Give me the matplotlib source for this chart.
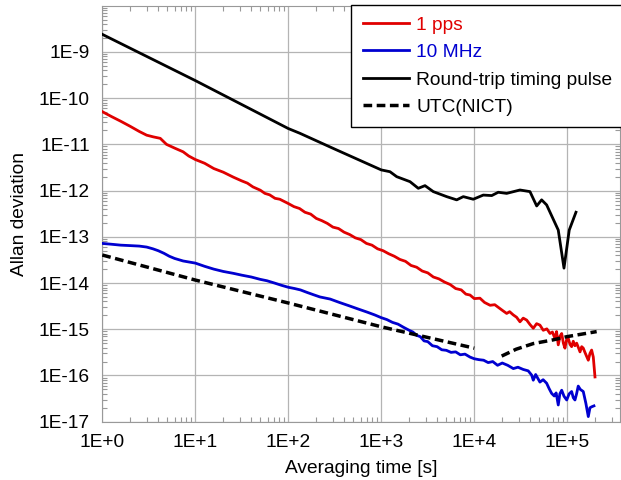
import matplotlib
matplotlib.use("Agg")
import matplotlib.pyplot as plt
import numpy as np
from matplotlib.ticker import FixedLocator, FuncFormatter, LogLocator, NullFormatter

plt.rcParams['font.family'] = ['Liberation Sans', 'DejaVu Sans']

# ---------------- data ----------------
series_labels = ["1 pps", "10 MHz", "Round-trip timing pulse", "UTC(NICT)"]

tau_1pps = [1, 1.26, 1.58, 2.0, 2.5, 3.0, 3.55, 4.2, 4.9, 6.0, 7.4, 8.5, 10, 12.6, 15.8, 20,
            25.7, 31.6, 36.3, 41.7, 50, 56, 63, 72, 81, 100, 115, 132, 151, 174, 200, 229,
            263, 302, 347, 398, 457, 525, 603, 692, 794, 912, 1047, 1202, 1380, 1585, 1820,
            2089, 2399, 2754, 3162, 3631, 4169, 4786, 5495, 6310, 7244, 8128, 9000, 10000,
            11500, 12900, 14800, 16600, 18900, 20400, 22300, 24000, 26200, 28500, 31000,
            33600, 36600, 39800, 43100, 46800, 50800, 55200, 60300, 65200, 69200, 73800,
            76700, 80000, 83600, 87100, 90800, 94400, 98400, 102600, 107000, 111400, 116000,
            121000, 126200, 131800, 137100, 142900, 148600, 154900, 161400, 168300, 175400,
            182800, 190500, 198600]
adev_1pps = [5.1e-11, 3.98e-11, 3.16e-11, 2.45e-11, 1.9e-11, 1.58e-11, 1.45e-11, 1.35e-11,
             1.0e-11, 8.3e-12, 6.9e-12, 5.6e-12, 4.7e-12, 3.9e-12, 3.0e-12, 2.5e-12, 1.95e-12,
             1.62e-12, 1.45e-12, 1.2e-12, 1.02e-12, 8.7e-13, 8.1e-13, 6.8e-13, 6.5e-13,
             5.25e-13, 4.5e-13, 4.1e-13, 3.4e-13, 3.1e-13, 2.5e-13, 2.24e-13, 1.95e-13,
             1.62e-13, 1.51e-13, 1.26e-13, 1.12e-13, 9.5e-14, 8.7e-14, 7.2e-14, 6.6e-14,
             5.5e-14, 5.0e-14, 4.3e-14, 3.8e-14, 3.24e-14, 2.95e-14, 2.4e-14, 2.2e-14,
             1.82e-14, 1.66e-14, 1.35e-14, 1.23e-14, 1.05e-14, 9.3e-15, 7.6e-15, 7.1e-15,
             5.75e-15, 5.5e-15, 4.6e-15, 4.7e-15, 3.8e-15, 3.3e-15, 3.4e-15, 2.8e-15, 2.5e-15,
             2.2e-15, 2.4e-15, 2.05e-15, 1.82e-15, 1.45e-15, 1.74e-15, 1.58e-15, 1.26e-15,
             1.05e-15, 1.32e-15, 1.23e-15, 9.5e-16, 1.02e-15, 8.1e-16, 8.7e-16, 6.3e-16,
             8.9e-16, 4.6e-16, 7.1e-16, 8.1e-16, 5.0e-16, 3.9e-16, 6.0e-16, 6.3e-16, 4.7e-16,
             4.2e-16, 5.5e-16, 4.4e-16, 5.0e-16, 4.0e-16, 3.24e-16, 4.2e-16, 3.9e-16,
             3.16e-16, 2.6e-16, 2.14e-16, 3.0e-16, 3.55e-16, 2.5e-16, 9.3e-17]

tau_10mhz = [1, 1.26, 1.58, 2.0, 2.5, 3.0, 3.5, 4.0, 4.6, 5.25, 6.0, 7.4, 10, 12.6, 15.8, 20,
             25.7, 31.6, 40, 50, 59, 71, 85, 100, 117, 135, 158, 186, 219, 282, 355, 447, 562,
             708, 851, 1000, 1148, 1318, 1514, 1738, 1995, 2188, 2399, 2630, 2884, 3162, 3548,
             3981, 4467, 5012, 5623, 6310, 7079, 7943, 9000, 10000, 11200, 12600, 14100,
             15800, 17800, 20000, 22900, 26300, 29500, 33600, 38000, 41400, 43100, 45700,
             50800, 55000, 60000, 63800, 67900, 72400, 75900, 80000, 83200, 87100, 92300,
             98600, 104700, 111400, 116100, 121000, 125900, 131200, 138000, 148600, 158500,
             168300, 175400, 182800, 193600]
adev_10mhz = [7.2e-14, 6.9e-14, 6.6e-14, 6.45e-14, 6.3e-14, 6.0e-14, 5.5e-14, 5.0e-14,
              4.4e-14, 3.8e-14, 3.4e-14, 3.0e-14, 2.7e-14, 2.3e-14, 2.0e-14, 1.78e-14,
              1.62e-14, 1.48e-14, 1.35e-14, 1.2e-14, 1.12e-14, 1.0e-14, 8.9e-15, 8.1e-15,
              7.6e-15, 7.1e-15, 6.3e-15, 5.6e-15, 5.0e-15, 4.5e-15, 3.8e-15, 3.24e-15,
              2.75e-15, 2.34e-15, 2.04e-15, 1.78e-15, 1.62e-15, 1.41e-15, 1.29e-15, 1.1e-15,
              9.5e-16, 8.7e-16, 7.4e-16, 6.9e-16, 5.6e-16, 5.4e-16, 4.4e-16, 4.2e-16, 3.6e-16,
              3.5e-16, 3.16e-16, 3.24e-16, 2.8e-16, 2.9e-16, 2.5e-16, 2.3e-16, 2.2e-16,
              2.14e-16, 1.9e-16, 2.0e-16, 1.66e-16, 1.86e-16, 1.66e-16, 1.41e-16, 1.51e-16,
              1.35e-16, 1.26e-16, 1.02e-16, 7.9e-17, 1.05e-16, 7.2e-17, 8.1e-17, 6.8e-17,
              5.2e-17, 4.1e-17, 3.6e-17, 4.2e-17, 2.3e-17, 4.0e-17, 4.8e-17, 3.55e-17,
              2.95e-17, 4.0e-17, 4.5e-17, 3.3e-17, 2.95e-17, 4.0e-17, 5.9e-17, 5.0e-17,
              4.5e-17, 2.5e-17, 1.29e-17, 2.0e-17, 2.1e-17, 2.2e-17]

tau_roundtrip = [1, 10, 100, 133, 316, 1000, 1241, 1465, 2036, 2500, 2951, 3624, 5047, 6470,
                 7620, 9750, 12500, 15400, 18100, 22300, 31000, 39700, 46900, 53000, 60000,
                 80000, 92200, 105000, 124000]
adev_roundtrip = [2.4e-9, 2.4e-10, 2.2e-11, 1.74e-11, 7.9e-12, 2.8e-12, 2.56e-12, 2.0e-12,
                  1.56e-12, 1.12e-12, 1.28e-12, 9.5e-13, 7.4e-13, 6.3e-13, 7.4e-13, 6.5e-13,
                  8.0e-13, 7.8e-13, 9.2e-13, 8.7e-13, 1.03e-12, 9.5e-13, 4.65e-13, 6.3e-13,
                  4.9e-13, 1.4e-13, 2.1e-14, 1.4e-13, 3.4e-13]

tau_utc_a = [1, 10, 100, 1000, 10000]
adev_utc_a = [4.04e-14, 1.16e-14, 3.7e-15, 1.13e-15, 3.9e-16]
tau_utc_b = [19700, 28200, 43100, 70600, 98600, 207000]
adev_utc_b = [2.63e-16, 3.7e-16, 4.9e-16, 5.9e-16, 6.9e-16, 8.9e-16]

x_ticks = [1e0, 1e1, 1e2, 1e3, 1e4, 1e5]
x_tick_labels = ["1E+0", "1E+1", "1E+2", "1E+3", "1E+4", "1E+5"]
y_ticks = [1e-17, 1e-16, 1e-15, 1e-14, 1e-13, 1e-12, 1e-11, 1e-10, 1e-9]
y_tick_labels = ["1E-17", "1E-16", "1E-15", "1E-14", "1E-13", "1E-12", "1E-11", "1E-10", "1E-9"]

# ---------------- figure ----------------
fig = plt.figure(figsize=(6.21, 4.80), dpi=100)
W, H = 621, 480
ax = fig.add_axes([102.3 / W, (H - 421.7) / H, (620 - 102.3) / W, (421.7 - 5.7) / H])
ax.set_xscale('log')
ax.set_yscale('log')
ax.set_xlim(1, 3.69e5)
ax.set_ylim(1e-17, 1e-8)

ax.grid(True, which='major', color='#b4b4b4', lw=0.9)
ax.set_axisbelow(True)

ax.plot(tau_1pps, adev_1pps, color='#e00000', lw=2.0, label=series_labels[0], zorder=3)
ax.plot(tau_10mhz, adev_10mhz, color='#0000d0', lw=2.0, label=series_labels[1], zorder=3)
ax.plot(tau_roundtrip, adev_roundtrip, color='black', lw=2.0, label=series_labels[2], zorder=3)
dash = (0, (2.5, 1.3))
ax.plot(tau_utc_a, adev_utc_a, color='black', lw=2.5, ls=dash, label=series_labels[3], zorder=4)
ax.plot(tau_utc_b, adev_utc_b, color='black', lw=2.5, ls=dash, zorder=4)

ax.xaxis.set_major_locator(FixedLocator(x_ticks))
ax.xaxis.set_major_formatter(FuncFormatter(lambda v, p: x_tick_labels[x_ticks.index(v)] if v in x_ticks else ""))
ax.yaxis.set_major_locator(FixedLocator(y_ticks))
ax.yaxis.set_major_formatter(FuncFormatter(lambda v, p: y_tick_labels[y_ticks.index(v)] if v in y_ticks else ""))
ax.xaxis.set_minor_locator(LogLocator(base=10, subs=np.arange(2, 10), numticks=20))
ax.yaxis.set_minor_locator(LogLocator(base=10, subs=np.arange(2, 10), numticks=20))
ax.xaxis.set_minor_formatter(NullFormatter())
ax.yaxis.set_minor_formatter(NullFormatter())

ax.tick_params(which='both', direction='in', top=True, right=True, color='#999999', width=0.8)
ax.tick_params(which='major', length=0, labelsize=13.8, pad=9)
ax.tick_params(which='minor', length=3.5)
for s in ax.spines.values():
    s.set_color('#999999')
    s.set_linewidth(0.8)

ax.set_xlabel("Averaging time [s]", fontsize=13.8, labelpad=6)
ax.set_ylabel("Allan deviation", fontsize=13.8, labelpad=8)

leg = ax.legend(loc='upper left', bbox_to_anchor=((351 - 102.3) / 517.7, 1.002),
                borderaxespad=0, fontsize=13.8, frameon=True, fancybox=False,
                edgecolor='black', framealpha=1, handlelength=2.45, handletextpad=0.35,
                labelspacing=0.52, borderpad=0.6)
leg.get_frame().set_linewidth(1.0)
leg.set_zorder(10)
for txt, col in zip(leg.get_texts(), ['#e00000', '#0000d0', 'black', 'black']):
    txt.set_color(col)

fig.savefig("out.png", dpi=100)
